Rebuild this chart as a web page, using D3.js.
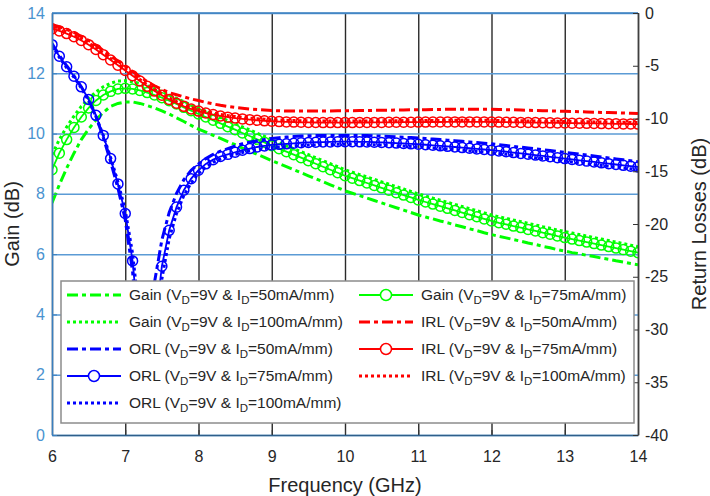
<!DOCTYPE html>
<html>
<head>
<meta charset="utf-8">
<script src="https://cdn.jsdelivr.net/npm/d3@7/dist/d3.min.js"></script>
<style>
    body { margin: 0; background: #fff; }
    svg text { font-family: "Liberation Sans", Arial, sans-serif; }
</style>
</head>
<body>
<div id="chart"></div>
<script>
"use strict";

// frequency grid, GHz (one sample every 0.1 GHz)
const frequency = d3.range(81).map(i => +(6 + i * 0.1).toFixed(1));

// gain, dB (left axis)
const gain50 = [7.7, 8.3, 8.85, 9.35, 9.8, 10.15, 10.45, 10.7, 10.9, 11.0,
    11.05, 11.05, 11.0, 10.93, 10.85, 10.75, 10.65, 10.52, 10.4, 10.27,
    10.15, 10.05, 9.94, 9.84, 9.73, 9.63, 9.52, 9.42, 9.31, 9.21,
    9.1, 9.0, 8.9, 8.8, 8.7, 8.6, 8.5, 8.4, 8.3, 8.2,
    8.1, 8.02, 7.94, 7.86, 7.78, 7.7, 7.62, 7.54, 7.46, 7.38,
    7.3, 7.23, 7.17, 7.1, 7.04, 6.97, 6.91, 6.84, 6.78, 6.71,
    6.65, 6.59, 6.54, 6.48, 6.43, 6.37, 6.32, 6.26, 6.21, 6.15,
    6.1, 6.05, 6.01, 5.96, 5.92, 5.87, 5.83, 5.78, 5.74, 5.69,
    5.65];
const gain75 = [8.8, 9.35, 9.8, 10.2, 10.55, 10.85, 11.1, 11.28, 11.4, 11.48,
    11.5, 11.48, 11.43, 11.36, 11.28, 11.19, 11.09, 10.98, 10.87, 10.76,
    10.65, 10.55, 10.44, 10.34, 10.23, 10.13, 10.02, 9.92, 9.81, 9.71,
    9.6, 9.5, 9.4, 9.3, 9.2, 9.1, 9.0, 8.9, 8.8, 8.7,
    8.6, 8.52, 8.44, 8.36, 8.28, 8.2, 8.12, 8.04, 7.96, 7.88,
    7.8, 7.73, 7.66, 7.59, 7.52, 7.45, 7.38, 7.31, 7.24, 7.17,
    7.1, 7.04, 6.99, 6.93, 6.88, 6.82, 6.77, 6.71, 6.66, 6.6,
    6.55, 6.5, 6.45, 6.4, 6.35, 6.3, 6.25, 6.2, 6.15, 6.1,
    6.05];
const gain100 = [9.3, 9.8, 10.22, 10.58, 10.9, 11.16, 11.38, 11.55, 11.67, 11.74,
    11.75, 11.72, 11.66, 11.58, 11.49, 11.39, 11.28, 11.17, 11.06, 10.95,
    10.84, 10.75, 10.64, 10.54, 10.43, 10.33, 10.22, 10.12, 10.01, 9.91,
    9.8, 9.7, 9.6, 9.5, 9.4, 9.3, 9.2, 9.1, 9.0, 8.9,
    8.8, 8.72, 8.64, 8.56, 8.48, 8.4, 8.32, 8.24, 8.16, 8.08,
    8.0, 7.93, 7.86, 7.79, 7.72, 7.65, 7.58, 7.51, 7.44, 7.37,
    7.3, 7.24, 7.19, 7.13, 7.08, 7.02, 6.97, 6.91, 6.86, 6.8,
    6.75, 6.7, 6.65, 6.6, 6.55, 6.5, 6.45, 6.4, 6.35, 6.3,
    6.25];

// output return loss, dB (right axis)
const orl50 = [-2.9, -4.0, -5.0, -5.95, -7.0, -8.2, -9.8, -11.8, -14.1, -16.6,
    -19.6, -24.5, -33, -31, -25.5, -21.5, -18.9, -17.1, -15.8, -14.9,
    -14.3, -13.8, -13.4, -13.1, -12.85, -12.6, -12.4, -12.25, -12.1, -12.0,
    -11.9, -11.82, -11.76, -11.71, -11.67, -11.64, -11.62, -11.6, -11.6, -11.6,
    -11.6, -11.6, -11.61, -11.62, -11.64, -11.67, -11.7, -11.73, -11.77, -11.81,
    -11.85, -11.9, -11.95, -12.0, -12.05, -12.1, -12.16, -12.22, -12.28, -12.34,
    -12.4, -12.48, -12.56, -12.64, -12.72, -12.8, -12.88, -12.96, -13.04, -13.12,
    -13.2, -13.29, -13.38, -13.47, -13.56, -13.65, -13.74, -13.83, -13.92, -14.01,
    -14.1];
const orl75 = [-3.0, -4.1, -5.1, -6.0, -7.0, -8.2, -9.7, -11.6, -13.8, -16.2,
    -19.0, -23.5, -31, -35.5, -30, -24.0, -20.6, -18.4, -16.8, -15.7,
    -14.9, -14.3, -13.9, -13.6, -13.4, -13.2, -13.0, -12.85, -12.7, -12.6,
    -12.5, -12.45, -12.4, -12.35, -12.3, -12.27, -12.25, -12.23, -12.22, -12.2,
    -12.2, -12.2, -12.21, -12.22, -12.24, -12.27, -12.3, -12.33, -12.36, -12.4,
    -12.44, -12.49, -12.54, -12.59, -12.64, -12.7, -12.76, -12.82, -12.88, -12.94,
    -13.0, -13.07, -13.15, -13.23, -13.31, -13.39, -13.47, -13.55, -13.63, -13.71,
    -13.8, -13.88, -13.96, -14.04, -14.12, -14.2, -14.28, -14.36, -14.44, -14.52,
    -14.6];
const orl100 = [-3.1, -4.2, -5.2, -6.1, -7.1, -8.3, -9.8, -11.6, -13.7, -16.0,
    -18.7, -22.8, -29, -36, -32, -25.2, -21.4, -19.0, -17.3, -16.1,
    -15.2, -14.6, -14.15, -13.85, -13.6, -13.4, -13.22, -13.07, -12.95, -12.85,
    -12.75, -12.7, -12.65, -12.6, -12.55, -12.52, -12.5, -12.48, -12.47, -12.45,
    -12.45, -12.45, -12.46, -12.47, -12.49, -12.52, -12.55, -12.58, -12.61, -12.65,
    -12.69, -12.74, -12.79, -12.84, -12.89, -12.95, -13.01, -13.07, -13.13, -13.19,
    -13.25, -13.32, -13.4, -13.48, -13.56, -13.64, -13.72, -13.8, -13.88, -13.96,
    -14.05, -14.13, -14.21, -14.29, -14.37, -14.45, -14.53, -14.61, -14.69, -14.77,
    -14.85];

// input return loss, dB (right axis)
const irl50 = [-1.1, -1.3, -1.55, -1.85, -2.2, -2.6, -3.05, -3.55, -4.05, -4.55,
    -5.05, -5.55, -6.05, -6.5, -6.9, -7.25, -7.55, -7.75, -7.95, -8.15,
    -8.3, -8.47, -8.62, -8.75, -8.86, -8.95, -9.03, -9.1, -9.15, -9.2,
    -9.24, -9.27, -9.29, -9.3, -9.3, -9.3, -9.3, -9.29, -9.28, -9.27,
    -9.27, -9.26, -9.25, -9.24, -9.23, -9.22, -9.21, -9.2, -9.19, -9.18,
    -9.17, -9.16, -9.15, -9.14, -9.13, -9.12, -9.12, -9.12, -9.12, -9.12,
    -9.13, -9.14, -9.16, -9.18, -9.2, -9.22, -9.24, -9.26, -9.28, -9.3,
    -9.32, -9.34, -9.36, -9.38, -9.4, -9.42, -9.44, -9.46, -9.48, -9.5,
    -9.52];
const irl75 = [-1.5, -1.7, -1.95, -2.25, -2.6, -3.0, -3.45, -3.95, -4.45, -4.95,
    -5.45, -5.95, -6.45, -6.95, -7.4, -7.8, -8.2, -8.55, -8.85, -9.1,
    -9.3, -9.48, -9.63, -9.76, -9.87, -9.96, -10.04, -10.11, -10.17, -10.22,
    -10.26, -10.29, -10.32, -10.34, -10.36, -10.37, -10.38, -10.39, -10.39, -10.39,
    -10.39, -10.39, -10.38, -10.38, -10.37, -10.37, -10.36, -10.36, -10.35, -10.35,
    -10.34, -10.34, -10.33, -10.33, -10.32, -10.32, -10.32, -10.32, -10.32, -10.32,
    -10.33, -10.34, -10.35, -10.36, -10.37, -10.38, -10.39, -10.4, -10.41, -10.42,
    -10.43, -10.44, -10.45, -10.46, -10.47, -10.48, -10.49, -10.5, -10.51, -10.52,
    -10.53];
const irl100 = [-1.35, -1.55, -1.8, -2.1, -2.45, -2.85, -3.3, -3.8, -4.3, -4.8,
    -5.3, -5.8, -6.3, -6.8, -7.25, -7.65, -8.05, -8.4, -8.7, -8.95,
    -9.15, -9.33, -9.48, -9.61, -9.72, -9.81, -9.89, -9.96, -10.02, -10.07,
    -10.11, -10.14, -10.17, -10.19, -10.21, -10.22, -10.23, -10.24, -10.24, -10.24,
    -10.24, -10.24, -10.23, -10.23, -10.22, -10.22, -10.21, -10.21, -10.2, -10.2,
    -10.19, -10.19, -10.18, -10.18, -10.17, -10.17, -10.17, -10.17, -10.17, -10.17,
    -10.18, -10.19, -10.2, -10.21, -10.22, -10.23, -10.24, -10.25, -10.26, -10.27,
    -10.28, -10.29, -10.3, -10.31, -10.32, -10.33, -10.34, -10.35, -10.36, -10.37,
    -10.38];

// tick values
const frequencyTicks = [6, 7, 8, 9, 10, 11, 12, 13, 14];
const gainTicks = [0, 2, 4, 6, 8, 10, 12, 14];
const lossTicks = [-40, -35, -30, -25, -20, -15, -10, -5, 0];

// series, in legend order (row by row, two columns)
const series = [
    { label: "Gain", current: "50", values: gain50, axis: "gain", color: "#00ff00", style: "dashdot" },
    { label: "Gain", current: "75", values: gain75, axis: "gain", color: "#00ff00", style: "circle" },
    { label: "Gain", current: "100", values: gain100, axis: "gain", color: "#00ff00", style: "dot" },
    { label: "IRL", current: "50", values: irl50, axis: "loss", color: "#ff0000", style: "dashdot" },
    { label: "ORL", current: "50", values: orl50, axis: "loss", color: "#0000ff", style: "dashdot" },
    { label: "IRL", current: "75", values: irl75, axis: "loss", color: "#ff0000", style: "circle" },
    { label: "ORL", current: "75", values: orl75, axis: "loss", color: "#0000ff", style: "circle" },
    { label: "IRL", current: "100", values: irl100, axis: "loss", color: "#ff0000", style: "dot" },
    { label: "ORL", current: "100", values: orl100, axis: "loss", color: "#0000ff", style: "dot" }
];

// line settings per style
const lineStyles = {
    dashdot: { width: 3, dash: "11,4,4,4" },
    dot: { width: 3, dash: "3,3" },
    circle: { width: 1.8, dash: null }
};

function draw() {
    let width = 710;
    let height = 496;
    let margin = { top: 13, right: 72, bottom: 61, left: 52 };
    let plotWidth = width - margin.left - margin.right;
    let plotHeight = height - margin.top - margin.bottom;

    let leftColor = "#3a7fbf";
    let darkColor = "#333333";

    let x = d3.scaleLinear().domain([6, 14]).range([0, plotWidth]);
    let yGain = d3.scaleLinear().domain([0, 14]).range([plotHeight, 0]);
    let yLoss = d3.scaleLinear().domain([-40, 0]).range([plotHeight, 0]);

    let svg = d3.select("#chart").append("svg")
        .attr("width", width)
        .attr("height", height);

    let g = svg.append("g")
        .attr("transform", `translate(${margin.left},${margin.top})`);

    svg.append("defs").append("clipPath")
        .attr("id", "plot-clip")
        .append("rect")
        .attr("width", plotWidth)
        .attr("height", plotHeight);

    // vertical grid
    g.append("g")
        .attr("transform", `translate(0,${plotHeight})`)
        .call(d3.axisBottom(x).tickValues(frequencyTicks).tickSize(-plotHeight).tickFormat(""))
        .call(a => a.select(".domain").remove())
        .call(a => a.selectAll("line").attr("stroke", "#2a2a2a").attr("stroke-width", 1.4));

    // horizontal grid (left axis)
    g.append("g")
        .call(d3.axisLeft(yGain).tickValues(gainTicks).tickSize(-plotWidth).tickFormat(""))
        .call(a => a.select(".domain").remove())
        .call(a => a.selectAll("line").attr("stroke", "#5b9bd5").attr("stroke-width", 1.5));

    // curves
    let curves = g.append("g").attr("clip-path", "url(#plot-clip)");

    function yScaleOf(s) {
        return s.axis === "gain" ? yGain : yLoss;
    }

    // gain first, then return losses on top
    let drawOrder = series.filter(s => s.axis === "gain")
        .concat(series.filter(s => s.label === "ORL"))
        .concat(series.filter(s => s.label === "IRL"));

    drawOrder.forEach(s => {
        let y = yScaleOf(s);
        let st = lineStyles[s.style];
        let line = d3.line()
            .x((d, i) => x(frequency[i]))
            .y(d => y(d));

        curves.append("path")
            .datum(s.values)
            .attr("fill", "none")
            .attr("stroke", s.color)
            .attr("stroke-width", st.width)
            .attr("stroke-dasharray", st.dash)
            .attr("d", line);

        if (s.style === "circle") {
            curves.selectAll(null)
                .data(s.values)
                .enter()
                .append("circle")
                .attr("cx", (d, i) => x(frequency[i]))
                .attr("cy", d => y(d))
                .attr("r", 5)
                .attr("fill", "none")
                .attr("stroke", s.color)
                .attr("stroke-width", 1.5);
        }
    });

    let plainNumber = d => String(d);

    // x axis
    g.append("g")
        .attr("transform", `translate(0,${plotHeight})`)
        .call(d3.axisBottom(x).tickValues(frequencyTicks).tickFormat(plainNumber)
            .tickSizeInner(-5).tickSizeOuter(0).tickPadding(16))
        .call(a => a.select(".domain").attr("stroke", "#2f5f8a").attr("stroke-width", 1.5))
        .call(a => a.selectAll("line").attr("stroke", darkColor))
        .call(a => a.selectAll("text").attr("fill", "#262626").style("font-size", "16px"));

    // top border
    g.append("line")
        .attr("x1", 0).attr("x2", plotWidth)
        .attr("y1", 0).attr("y2", 0)
        .attr("stroke", leftColor)
        .attr("stroke-width", 1.5);

    // left axis
    g.append("g")
        .call(d3.axisLeft(yGain).tickValues(gainTicks).tickFormat(plainNumber)
            .tickSizeInner(-5).tickSizeOuter(0).tickPadding(7))
        .call(a => a.select(".domain").attr("stroke", leftColor).attr("stroke-width", 1.5))
        .call(a => a.selectAll("line").attr("stroke", leftColor))
        .call(a => a.selectAll("text").attr("fill", "#4a93d0").style("font-size", "16px"));

    // right axis
    g.append("g")
        .attr("transform", `translate(${plotWidth},0)`)
        .call(d3.axisRight(yLoss).tickValues(lossTicks).tickFormat(plainNumber)
            .tickSizeInner(-5).tickSizeOuter(0).tickPadding(7))
        .call(a => a.select(".domain").attr("stroke", "#404040").attr("stroke-width", 1.5))
        .call(a => a.selectAll("line").attr("stroke", darkColor))
        .call(a => a.selectAll("text").attr("fill", "#262626").style("font-size", "16px"));

    // axis titles
    svg.append("text")
        .attr("x", margin.left + plotWidth / 2)
        .attr("y", 492)
        .attr("text-anchor", "middle")
        .attr("fill", "#262626")
        .style("font-size", "20px")
        .text("Frequency (GHz)");

    svg.append("text")
        .attr("transform", `translate(19,${margin.top + plotHeight / 2}) rotate(-90)`)
        .attr("text-anchor", "middle")
        .attr("fill", "#262626")
        .style("font-size", "20px")
        .text("Gain (dB)");

    svg.append("text")
        .attr("transform", `translate(706,${margin.top + plotHeight / 2}) rotate(-90)`)
        .attr("text-anchor", "middle")
        .attr("fill", "#262626")
        .style("font-size", "20px")
        .text("Return Losses (dB)");

    // legend box
    let legendBox = { x: 9, y: 268, width: 573, height: 142 };
    let legend = g.append("g")
        .attr("transform", `translate(${legendBox.x},${legendBox.y})`);

    legend.append("rect")
        .attr("width", legendBox.width)
        .attr("height", legendBox.height)
        .attr("fill", "#fff")
        .attr("stroke", "#8c8c8c")
        .attr("stroke-width", 1.5);

    let entries = legend.selectAll(".legend-entry")
        .data(series)
        .enter()
        .append("g")
        .attr("class", "legend-entry")
        .attr("transform", (d, i) => `translate(${(i % 2) * 292},${14 + Math.floor(i / 2) * 27})`);

    entries.append("line")
        .attr("x1", 6).attr("x2", 60)
        .attr("y1", 0).attr("y2", 0)
        .attr("stroke", d => d.color)
        .attr("stroke-width", d => lineStyles[d.style].width)
        .attr("stroke-dasharray", d => lineStyles[d.style].dash);

    entries.filter(d => d.style === "circle")
        .append("circle")
        .attr("cx", 33)
        .attr("cy", 0)
        .attr("r", 5.5)
        .attr("fill", "#fff")
        .attr("stroke", d => d.color)
        .attr("stroke-width", 1.5);

    let texts = entries.append("text")
        .attr("x", 68)
        .attr("y", 5)
        .attr("fill", "#262626")
        .style("font-size", "15.5px");

    texts.each(function (d) {
        let t = d3.select(this);
        t.append("tspan").text(`${d.label} (V`);
        t.append("tspan").attr("dy", 4).style("font-size", "11.5px").text("D");
        t.append("tspan").attr("dy", -4).text("=9V & I");
        t.append("tspan").attr("dy", 4).style("font-size", "11.5px").text("D");
        t.append("tspan").attr("dy", -4).text(`=${d.current}mA/mm)`);
    });
}

draw();
</script>
</body>
</html>
